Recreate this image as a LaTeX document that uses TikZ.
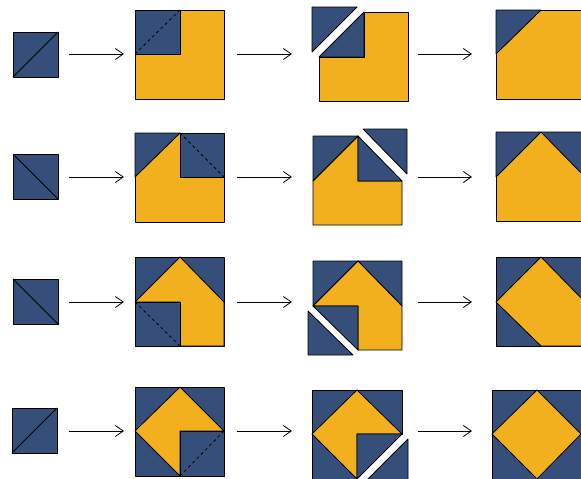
\documentclass[tikz,border=0pt]{standalone}
\usepackage{tikz}
\usetikzlibrary{arrows.meta}

\definecolor{qblue}{RGB}{53,79,122}
\definecolor{qorange}{RGB}{242,175,30}
\tikzset{
  bluepc/.style={draw=black,fill=qblue,line width=.8pt,line join=round},
  orangepc/.style={draw=black,fill=qorange,line width=.8pt,line join=round},
  fold/.style={dashed,dash pattern=on 3pt off 3pt,line width=.8pt}
}

\begin{document}
\begin{tikzpicture}[>={Straight Barb[length=8pt,width=11pt]},x=1pt,y=-1pt]
        \clip (0,0) rectangle (581,479);
        % arrows
        \foreach \y [count=\r] in {54,177,302,431}
        {
            \foreach \xa/\xb [count=\c] in {69/124,237/292,418/472}
            {
                \coordinate (s\r\c) at (\xa,\y);
                \coordinate (e\r\c) at (\xb,\y);
                \draw[->,line width=.8pt] (s\r\c)--(e\r\c);
            }
        }

        % row 1
        \draw[bluepc] (13,32) rectangle (58,77);
        \draw[line width=.8pt] (13,77)--(58,32);
        \draw[orangepc] (135,10) rectangle (224,99);
        \draw[bluepc] (135,10) rectangle (180,54);
        \draw[fold] (135,54)--(180,10);
        \draw[orangepc] (364,12)--(408,12)--(408,101)--(319,101)--(319,57)--(364,57)--cycle;
        \draw[bluepc] (319,57)--(364,12)--(364,57)--cycle;
        \draw[bluepc] (312,7)--(357,7)--(312,52)--cycle;
        \draw[orangepc] (496,10) rectangle (585,99);
        \draw[bluepc] (496,10)--(541,10)--(496,54)--cycle;

        % row 2
        \draw[bluepc] (13,154) rectangle (58,199);
        \draw[line width=.8pt] (13,154)--(58,199);
        \draw[orangepc] (135,133) rectangle (224,222);
        \draw[bluepc] (135,133)--(180,133)--(135,177)--cycle;
        \draw[bluepc] (180,133) rectangle (224,177);
        \draw[fold] (180,133)--(224,177);
        \draw[orangepc] (313,181)--(358,136)--(358,181)--(402,181)--(402,225)--(313,225)--cycle;
        \draw[bluepc] (313,136)--(358,136)--(313,181)--cycle;
        \draw[bluepc] (358,136)--(358,181)--(402,181)--cycle;
        \draw[bluepc] (363,129)--(407,129)--(407,174)--cycle;
        \draw[orangepc] (496,132) rectangle (585,221);
        \draw[bluepc] (496,132)--(541,132)--(496,177)--cycle;
        \draw[bluepc] (541,132)--(585,132)--(585,177)--cycle;

        % row 3
        \draw[bluepc] (13,279) rectangle (58,324);
        \draw[line width=.8pt] (13,279)--(58,324);
        \draw[bluepc] (135,257) rectangle (224,346);
        \draw[orangepc] (135,302)--(180,257)--(224,302)--(224,346)--(180,346)--(180,302)--cycle;
        \draw[bluepc] (135,302) rectangle (180,346);
        \draw[fold] (135,302)--(180,346);
        \draw[bluepc] (313,261)--(358,261)--(313,306)--cycle;
        \draw[bluepc] (358,261)--(402,261)--(402,306)--cycle;
        \draw[orangepc] (313,306)--(358,261)--(402,306)--(402,350)--(358,350)--(358,306)--cycle;
        \draw[bluepc] (313,306)--(358,306)--(358,350)--cycle;
        \draw[bluepc] (308,311)--(308,355)--(353,355)--cycle;
        \draw[bluepc] (496,257) rectangle (585,346);
        \draw[orangepc] (496,302)--(541,257)--(585,302)--(585,346)--(541,346)--cycle;

        % row 4
        \draw[bluepc] (12,408) rectangle (57,453);
        \draw[line width=.8pt] (12,453)--(57,408);
        \draw[bluepc] (135,387) rectangle (224,476);
        \draw[orangepc] (135,431)--(180,387)--(224,431)--(180,431)--(180,476)--cycle;
        \draw[bluepc] (180,431) rectangle (224,476);
        \draw[fold] (180,476)--(224,431);
        \draw[bluepc] (312,390)--(402,390)--(402,434)--(357,434)--(357,479)--(312,479)--cycle;
        \draw[orangepc] (312,434)--(357,390)--(402,434)--(357,434)--(357,479)--cycle;
        \draw[bluepc] (357,434)--(402,434)--(357,479)--cycle;
        \draw[bluepc] (408,439)--(408,484)--(363,484)--cycle;
        \draw[bluepc] (492,390) rectangle (581,479);
        \draw[orangepc] (492,434)--(537,390)--(581,434)--(537,479)--cycle;
\end{tikzpicture}
\end{document}
